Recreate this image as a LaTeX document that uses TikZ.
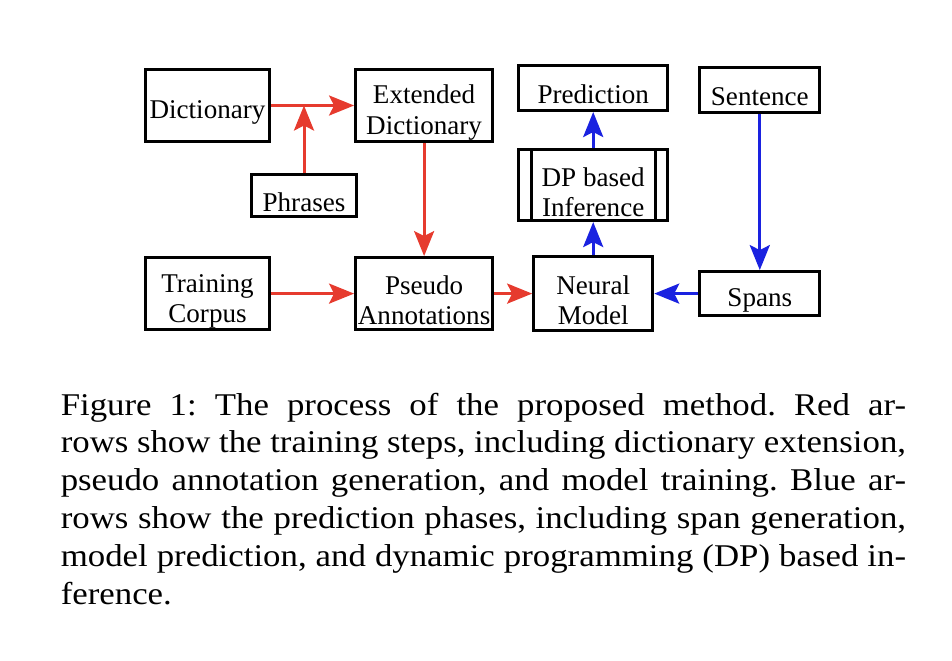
\documentclass[tikz,border=0pt]{standalone}
\usepackage{fontspec}
\setmainfont{Liberation Serif}
\usepackage{xcolor}
\usepackage{tikz}
\usetikzlibrary{arrows.meta, positioning, calc}
\definecolor{trainred}{HTML}{E63B2E}
\definecolor{predblue}{HTML}{1A22E0}

\begin{document}
\frenchspacing
\begin{tikzpicture}[
    x=0.01cm, y=-0.01cm,
    box/.style={draw, line width=0.85pt, inner sep=0pt, minimum height=0.72cm,
                text centered, align=center, font=\fontsize{7.7}{8.6}\selectfont},
    onebox/.style={box, text height=0.32cm},
    twobox/.style={box, text height=0.63cm},
    redarr/.style={-{Stealth[length=0.25cm, width=0.2cm, inset=0.05cm]}, line width=0.85pt, trainred},
    bluearr/.style={-{Stealth[length=0.25cm, width=0.2cm, inset=0.05cm]}, line width=0.85pt, predblue},
    caption/.style={anchor=north west, inner sep=0pt, xscale=1.1, transform shape,
                    text width=7.68cm, align=justify, font=\fontsize{9}{10.8}\selectfont},
  ]
  \useasboundingbox (0,0) rectangle (952,660);

  % Training side
  \node[onebox, minimum width=1.24cm] (dict) at (207.5,105.5) {Dictionary};
  \node[twobox, minimum width=1.37cm, right=0.83cm of dict] (ext) {Extended\\Dictionary};
  \node[onebox, minimum width=1.05cm, minimum height=0.42cm] (phr) at (304,195.5) {Phrases};

  \node[twobox, minimum width=1.24cm, below=1.13cm of dict] (train) {Training\\Corpus};
  \node[twobox, minimum width=1.37cm, right=0.83cm of train] (pseudo) {Pseudo\\Annotations};
  \node[twobox, minimum width=1.19cm, minimum height=0.74cm, right=0.38cm of pseudo] (neural) {Neural\\Model};

  % Prediction side
  \node[twobox, minimum width=1.49cm, minimum height=0.71cm, above=0.33cm of neural] (dp) {DP based\\Inference};
  \node[onebox, minimum width=1.49cm, minimum height=0.45cm, above=0.36cm of dp] (pred) {Prediction};
  \node[onebox, minimum width=1.2cm, minimum height=0.44cm, right=0.44cm of neural] (spans) {Spans};
  \node[onebox, minimum width=1.2cm, minimum height=0.45cm, above=1.56cm of spans] (sent) {Sentence};

  % side bars of the DP box
  \draw[line width=0.85pt] ([xshift=0.14cm]dp.north west) -- ([xshift=0.14cm]dp.south west);
  \draw[line width=0.85pt] ([xshift=-0.14cm]dp.north east) -- ([xshift=-0.14cm]dp.south east);

  % Arrows
  \draw[redarr] (dict) -- (ext);
  \draw[redarr] (phr) -- (phr |- dict.east);
  \draw[redarr] (ext) -- (pseudo);
  \draw[redarr] (train) -- (pseudo);
  \draw[redarr] (pseudo) -- (neural);
  \draw[bluearr] (sent) -- (spans);
  \draw[bluearr] (spans) -- (neural);
  \draw[bluearr] (neural) -- (dp);
  \draw[bluearr] (dp) -- (pred);

  % Caption
  \node[caption] (cap) at (60,392) {Figure 1: The process of the proposed method. Red ar-\linebreak
    rows show the training steps, including dictionary extension,\linebreak
    pseudo annotation generation, and model training. Blue ar-\linebreak
    rows show the prediction phases, including span generation,\linebreak
    model prediction, and dynamic programming (DP) based in-\linebreak
    ference.};

\end{tikzpicture}
\end{document}
